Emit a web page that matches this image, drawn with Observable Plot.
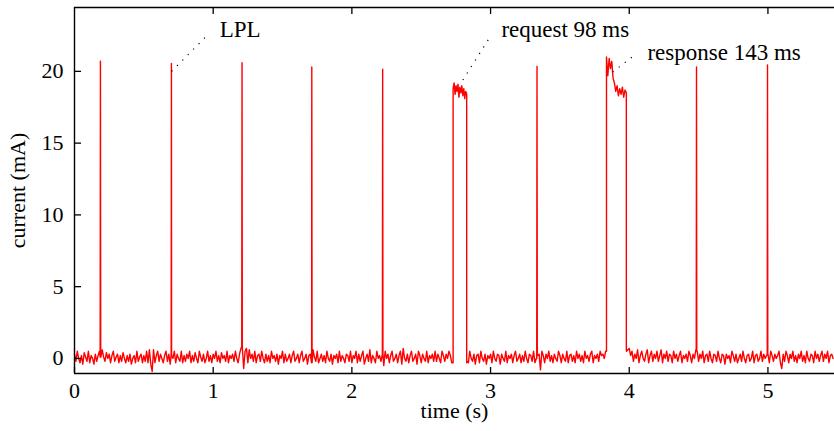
<!DOCTYPE html>
<html><head><meta charset="utf-8">
<script src="https://cdn.jsdelivr.net/npm/d3@7"></script>
<script src="https://cdn.jsdelivr.net/npm/@observablehq/plot@0.6"></script>
<style>html,body{margin:0;padding:0;background:#fff}</style>
</head><body><div id="chart"></div>
<script>
// Sampled baseline current (mA), one sample every sampleStep seconds from t = 0
const sampleStep = 0.01;
const baseline = [
 .3,-.2,.5,0,-.3,.2,-.4,.4,.1,-.2,.5,-.3,.2,0,-.4,.3,-.2,.2,.5,.1,
 .6,.1,-.2,.4,0,.3,-.3,.2,.5,-.2,.1,.3,-.3,.2,-.2,.4,0,-.3,.2,-.2,
 .3,-.4,0,.2,-.3,.5,-.2,.1,.3,-.3,.2,-.2,.5,-.3,.6,-.4,-.9,.6,-.3,.2,
 .5,-.2,.3,0,-.3,.2,.5,-.2,.3,-.4,.2,0,.5,-.3,.3,0,-.2,.5,-.3,.2,
 -.2,.3,0,.5,-.3,.2,-.2,.4,0,-.3,.5,.1,-.2,.3,-.3,0,.5,-.2,.2,-.3,
 .3,0,.5,-.2,.2,-.3,.4,0,.2,-.2,.5,-.3,.2,0,.3,-.2,.5,0,-.3,.3,
 .7,.8,-.7,.5,.7,-.3,.6,0,.3,-.2,.5,-.3,.2,.3,-.2,.5,0,-.3,.3,-.2,
 .2,-.3,.5,0,.2,-.2,.3,-.4,.2,0,.5,-.3,.3,-.2,0,.3,-.3,.2,.5,-.2,
 0,.3,-.3,.2,.5,-.2,0,.3,-.4,.2,.3,-.3,.6,.1,-.2,.5,-.3,0,.3,-.2,
 .2,-.3,.5,0,-.2,.3,-.4,.2,0,.3,-.3,.5,-.2,.2,0,-.3,.3,.2,-.2,.5,
 -.3,.2,0,.5,-.3,.3,-.2,.2,.5,-.4,0,.3,-.2,.6,-.3,.2,0,-.3,.5,0,
 .2,-.2,.3,-.5,.5,0,.3,-.3,.2,.5,-.2,0,.3,-.3,.2,.5,-.4,.7,0,-.2,
 .3,-.3,.2,.5,-.2,0,.3,-.4,.5,.2,-.3,.3,0,-.2,.5,-.3,.2,0,.3,-.2,
 .5,-.2,.3,0,-.3,.5,.2,-.2,.3,0,.5,.2,-.3,.4,.2,0,.3,-.2,.5,0,
 .2,0,.3,-.2,-.3,.5,0,-.2,.3,-.4,.2,.3,-.3,.5,0,-.2,.3,-.4,.2,0,
 .3,-.3,.5,0,-.2,.3,.2,-.4,.3,0,-.2,.5,-.3,.2,0,.3,-.3,.2,.5,-.2,
 0,.3,-.3,.2,-.2,.5,0,-.3,.3,.2,-.2,.5,-.3,0,.2,.3,-.8,.5,.2,-.3,
 .3,0,.5,-.2,.2,-.3,.3,0,-.2,.5,.2,-.3,.3,0,-.2,.5,-.3,.2,.3,-.2,
 .2,-.3,.5,0,.3,-.2,.2,-.3,.5,0,.2,-.2,.3,.5,-.3,.2,0,.3,-.2,.5,
 .2,.3,0,.5,.3,.2,0,.3,.2,0,.3,.2,.5,0,.3,.2,0,.3,.5,.6,
 .7,.2,.5,-.2,.3,0,.6,-.3,.2,.5,0,-.2,.3,.6,-.3,.2,.5,-.2,.3,0,
 .5,-.2,.2,.6,-.3,.3,0,.5,-.2,.3,.2,-.3,.5,0,.3,-.2,.2,.5,-.3,.2,
 0,.3,-.2,.5,.2,-.3,.3,0,.6,.5,-.2,.3,0,.5,-.3,.2,.3,-.2,.5,0,
 -.3,.3,.2,-.2,.5,0,-.3,.3,.2,-.4,.3,0,.2,-.3,.5,.2,-.2,.3,-.3,0,
 .3,-.2,.5,0,-.3,.2,.3,-.2,0,.5,-.3,.2,.3,-.2,0,.5,-.2,.3,0,.2,
 .3,-.3,.5,.2,-.2,.3,0,.2,.5,-.3,-.7,.3,-.2,.5,.2,-.3,.3,0,.5,-.2,
 .2,-.3,.3,0,.5,-.2,.2,-.3,.5,0,-.2,.3,.2,-.3,.5,0,.3,-.2,.2,.5,
 -.2,.3,0,.5,-.3,.2,.3,0
];

// LPL spikes
const spikeTimes = [0.187, 0.699, 1.208, 1.711, 2.222, 3.335, 4.485, 4.997];
const spikePeaks = [20.7, 20.55, 20.6, 20.3, 20.15, 20.35, 20.3, 20.45];

// Request burst (98 ms)
const requestStart = 2.73, requestEnd = 2.828;
const requestValues = [18.8, 19.2, 18.4, 19.0, 18.6, 19.1, 18.2, 18.9, 18.5, 19.0, 18.3, 18.8, 18.1, 18.6, 18.4];

// Response burst (143 ms)
const responseStart = 3.836, responseEnd = 3.979;
const responseValues = [21.0, 19.7, 20.9, 20.2, 20.7, 19.5, 19.2, 18.6, 19.0, 18.3, 18.8, 18.4, 18.9, 18.2, 18.7, 18.5];

// Axes
const xDomain = [0, 5.48];
const yDomain = [-1.05, 24.45];
const xTicks = [0, 1, 2, 3, 4, 5];
const yTicks = [0, 5, 10, 15, 20];
const xLabel = "time (s)";
const yLabel = "current (mA)";

// Annotations: leader from (fromT, fromI) to (toT, toI), label at (labelT, labelI)
const noteText = ["LPL", "request 98 ms", "response 143 ms"];
const noteFromT = [0.70, 2.80, 3.88];
const noteFromI = [20.0, 19.4, 19.95];
const noteToT = [0.945, 2.99, 4.02];
const noteToI = [22.4, 22.3, 21.0];
const noteLabelT = [1.047, 3.078, 4.131];
const noteLabelI = [22.9, 22.9, 21.3];

// ---- build the trace ----
const baseAt = t => baseline[Math.min(baseline.length - 1, Math.max(0, Math.round(t / sampleStep)))];
const bursts = [
  {start: requestStart, end: requestEnd, values: requestValues},
  {start: responseStart, end: responseEnd, values: responseValues}
];
const pts = [];
let seq = 0;
baseline.forEach((v, i) => {
  const t = +(i * sampleStep).toFixed(4);
  if (bursts.some(b => t >= b.start && t <= b.end)) return;
  pts.push({t, v, s: seq++});
});
for (const b of bursts) {
  pts.push({t: b.start, v: baseAt(b.start - sampleStep), s: seq++});
  const n = b.values.length;
  b.values.forEach((v, k) => pts.push({t: b.start + (b.end - b.start) * k / (n - 1), v, s: seq++}));
  pts.push({t: b.end, v: baseAt(b.end + sampleStep), s: seq++});
}
spikeTimes.forEach((ts, k) => {
  pts.push({t: ts - 0.002, v: baseAt(ts - 0.002), s: seq++});
  pts.push({t: ts, v: spikePeaks[k], s: seq++});
  pts.push({t: ts + 0.002, v: baseAt(ts + 0.002), s: seq++});
});
pts.sort((a, b) => a.t - b.t || a.s - b.s);

const notes = noteText.map((text, i) => ({
  text, x1: noteFromT[i], y1: noteFromI[i], x2: noteToT[i], y2: noteToI[i], lx: noteLabelT[i], ly: noteLabelI[i]
}));

const fmt = d3.format("d");
const blank = () => "";
const axisStroke = {stroke: "#000", strokeWidth: 1.4};

const chart = Plot.plot({
  width: 834,
  height: 431,
  marginLeft: 74,
  marginRight: 0,
  marginTop: 7,
  marginBottom: 58,
  style: {fontFamily: "'Liberation Serif', 'Times New Roman', serif", fontSize: "22px", color: "#000", background: "#fff", overflow: "visible"},
  x: {domain: xDomain, label: null},
  y: {domain: yDomain, label: null},
  marks: [
    Plot.lineY(pts, {x: "t", y: "v", stroke: "#ff0000", strokeWidth: 1.4, curve: "linear"}),
    Plot.link(notes, {x1: "x1", y1: "y1", x2: "x2", y2: "y2", stroke: "#000", strokeWidth: 1.2, strokeDasharray: "1.2,6.5"}),
    Plot.text(notes, {x: "lx", y: "ly", text: "text", textAnchor: "start", fontSize: 23, fill: "#000"}),
    // frame (left, bottom, top)
    Plot.ruleX([xDomain[0]], axisStroke),
    Plot.ruleY([yDomain[0]], axisStroke),
    Plot.ruleY([yDomain[1]], axisStroke),
    // inward ticks (axis ticks shifted into the frame)
    Plot.axisX(xTicks, {anchor: "bottom", tickSize: 6, dy: -6, tickFormat: blank, label: null, stroke: "#000", strokeWidth: 1.3}),
    Plot.axisX(xTicks.filter(d => d > 0), {anchor: "top", tickSize: 6, dy: 6, tickFormat: blank, label: null, stroke: "#000", strokeWidth: 1.3}),
    Plot.axisY(yTicks, {anchor: "left", tickSize: 7, dx: 7, tickFormat: blank, label: null, stroke: "#000", strokeWidth: 1.3}),
    // tick labels
    Plot.axisX(xTicks, {anchor: "bottom", tickSize: 0, tickPadding: 9, tickFormat: fmt, label: null, fontSize: 22}),
    Plot.axisY(yTicks, {anchor: "left", tickSize: 0, tickPadding: 11, tickFormat: fmt, label: null, fontSize: 22}),
    // axis titles
    Plot.text([xLabel], {frameAnchor: "bottom", dy: 44, fontSize: 22, fill: "#000"}),
    Plot.text([yLabel], {frameAnchor: "left", dx: -57, rotate: -90, textAnchor: "middle", lineAnchor: "middle", fontSize: 22, fill: "#000"})
  ]
});
document.getElementById("chart").appendChild(chart);
</script>
</body></html>
